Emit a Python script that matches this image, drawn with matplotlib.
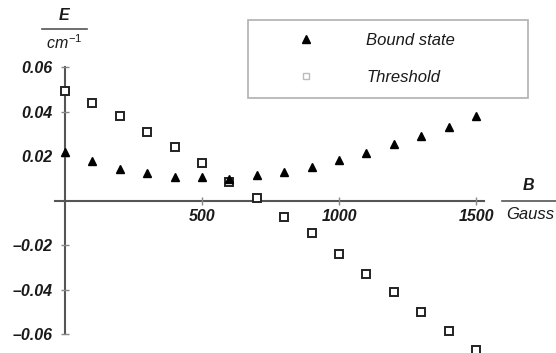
import matplotlib
matplotlib.use("Agg")
import matplotlib.pyplot as plt
from matplotlib.lines import Line2D

plt.rcParams['font.family'] = ['Liberation Sans', 'DejaVu Sans']
plt.rcParams['mathtext.fontset'] = 'custom'
plt.rcParams['mathtext.it'] = 'Liberation Sans:italic'
plt.rcParams['mathtext.rm'] = 'Liberation Sans'

B = [0, 100, 200, 300, 400, 500, 600, 700, 800, 900, 1000, 1100, 1200, 1300, 1400, 1500]
bound_state = [0.0219, 0.0179, 0.0141, 0.0122, 0.0107, 0.0107, 0.0099, 0.0114,
               0.0129, 0.0152, 0.0182, 0.0212, 0.0252, 0.0291, 0.0331, 0.0381]
threshold = [0.0493, 0.0436, 0.0380, 0.0308, 0.0242, 0.0170, 0.0085, 0.0013,
             -0.0072, -0.0147, -0.0242, -0.0330, -0.0411, -0.0500, -0.0588, -0.0670]
xticks = [500, 1000, 1500]
yticks = [-0.06, -0.04, -0.02, 0.02, 0.04, 0.06]
ytick_labels = ['–0.06', '–0.04', '–0.02', '0.02', '0.04', '0.06']

W, H = 556, 353
FS = 11.5
fig = plt.figure(figsize=(W / 100, H / 100), dpi=100)
ax = fig.add_axes([0, 0, 1, 1])
ax.set_xlim(-237.2, 1792)
ax.set_ylim(-0.0685, 0.0901)

axc = '#555555'
tc = '#1a1a1a'
for s in ['top', 'right']:
    ax.spines[s].set_visible(False)
ax.spines['left'].set_position(('data', 0))
ax.spines['bottom'].set_position(('data', 0))
ax.spines['left'].set_bounds(-0.06, 0.06)
ax.spines['bottom'].set_bounds(-37, 1530)
for s in ['left', 'bottom']:
    ax.spines[s].set_color(axc)
    ax.spines[s].set_linewidth(1.5)
    ax.spines[s].set_zorder(1)

ax.set_xticks(xticks)
ax.set_xticklabels([str(v) for v in xticks])
ax.set_yticks(yticks)
ax.set_yticklabels(ytick_labels)
ax.tick_params(axis='both', direction='inout', length=6, width=1, color='#888888',
               labelsize=FS, labelcolor=tc)
ax.tick_params(axis='x', pad=3)
ax.tick_params(axis='y', pad=6)
for lab in ax.get_xticklabels() + ax.get_yticklabels():
    lab.set_fontstyle('italic')
    lab.set_fontweight('bold')

ax.plot(B, threshold, linestyle='none', marker='s', markersize=5.3, markerfacecolor='white',
        markeredgecolor='#222222', markeredgewidth=1.4, zorder=3)
ax.plot(B, bound_state, linestyle='none', marker='^', markersize=5.3, color='black', zorder=4)

handles = [Line2D([], [], linestyle='none', marker='^', markersize=5.3, color='black'),
           Line2D([], [], linestyle='none', marker='s', markersize=4.5, markerfacecolor='white',
                  markeredgecolor='#bbbbbb', markeredgewidth=1)]
leg = ax.legend(handles, ['Bound state', 'Threshold'], loc='upper left', mode='expand',
                bbox_to_anchor=(248 / W, 1 - 103 / H, 280 / W, 83 / H),
                bbox_transform=fig.transFigure,
                frameon=True, fancybox=False, edgecolor='#b0b0b0', framealpha=1,
                prop={'style': 'italic', 'size': FS + 0.5},
                borderpad=0.8, handlelength=5.4, handletextpad=0.9,
                labelspacing=1.3, borderaxespad=0)
leg.get_frame().set_linewidth(1.2)
for t in leg.get_texts():
    t.set_color(tc)

# axis labels (fraction style)
fig.text(64 / W, 1 - 15 / H, 'E', ha='center', va='center', fontsize=FS,
         style='italic', weight='bold', color=tc)
fig.add_artist(Line2D([42 / W, 87 / W], [1 - 29 / H, 1 - 29 / H], color=axc, lw=1.2))
fig.text(64 / W, 1 - 43 / H, r'$cm^{-1}$', ha='center', va='center', fontsize=FS, color=tc)

fig.text(528 / W, 1 - 185 / H, 'B', ha='center', va='center', fontsize=FS,
         style='italic', weight='bold', color=tc)
fig.add_artist(Line2D([502 / W, 556 / W], [1 - 201 / H, 1 - 201 / H], color=axc, lw=1.2))
fig.text(506 / W, 1 - 214 / H, 'Gauss', ha='left', va='center', fontsize=FS + 0.5,
         style='italic', color=tc)

fig.savefig('out.png', dpi=100)
